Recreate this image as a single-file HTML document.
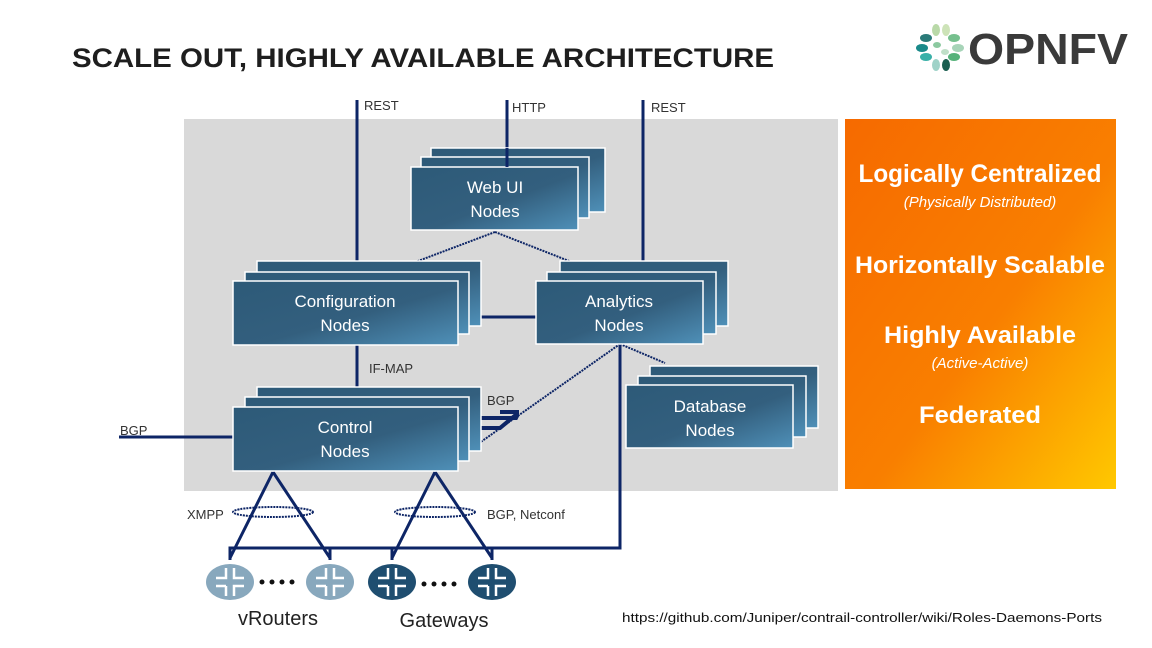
<!DOCTYPE html>
<html><head><meta charset="utf-8"><style>
html,body{margin:0;padding:0;background:#fff;}
svg{display:block;}
text{font-family:"Liberation Sans","DejaVu Sans",sans-serif;}
</style></head><body>
<svg width="1152" height="648" viewBox="0 0 1152 648" xmlns="http://www.w3.org/2000/svg">
<defs>
<linearGradient id="bx" x1="0" y1="0" x2="1" y2="1">
<stop offset="0" stop-color="#2d5a78"/><stop offset="0.55" stop-color="#335f7e"/><stop offset="1" stop-color="#4f90b8"/>
</linearGradient>
<linearGradient id="or" x1="0" y1="0" x2="1" y2="1">
<stop offset="0" stop-color="#f66a00"/><stop offset="0.55" stop-color="#f97f00"/><stop offset="1" stop-color="#ffc800"/>
</linearGradient>
</defs>
<rect width="1152" height="648" fill="#fff"/>
<text x="72" y="67" font-size="27" font-weight="bold" fill="#1e1e1e" textLength="702" lengthAdjust="spacingAndGlyphs">SCALE OUT, HIGHLY AVAILABLE ARCHITECTURE</text>
<g>
<g><ellipse cx="936" cy="30" rx="4" ry="6" fill="#b9d9a8"/><ellipse cx="946" cy="30" rx="4" ry="6" fill="#cde3b8"/><ellipse cx="926" cy="38" rx="6" ry="4" fill="#2a7a78"/><ellipse cx="954" cy="38" rx="6" ry="4" fill="#76c08e"/><ellipse cx="922" cy="48" rx="6" ry="4" fill="#1a8a8a"/><ellipse cx="958" cy="48" rx="6" ry="4" fill="#a7d4b8"/><ellipse cx="926" cy="57" rx="6" ry="4" fill="#3ab0a8"/><ellipse cx="954" cy="57" rx="6" ry="4" fill="#56b27a"/><ellipse cx="936" cy="65" rx="4" ry="6" fill="#9fd2c8"/><ellipse cx="946" cy="65" rx="4" ry="6" fill="#1b5e50"/><ellipse cx="937" cy="45" rx="4" ry="3" fill="#8cc9a0"/><ellipse cx="945" cy="52" rx="4" ry="3" fill="#c0dfc8"/></g>
<text x="968" y="64" font-size="44" font-weight="bold" fill="#3a3a3a" textLength="160" lengthAdjust="spacingAndGlyphs">OPNFV</text>
</g>
<rect x="184" y="119" width="654" height="372" fill="#d9d9d9"/>
<rect x="845" y="119" width="271" height="370" fill="url(#or)"/>
<g fill="#fff" text-anchor="middle">
<text x="980" y="182" font-size="25" font-weight="bold" textLength="243" lengthAdjust="spacingAndGlyphs">Logically Centralized</text>
<text x="980" y="207" font-size="15" font-style="italic">(Physically Distributed)</text>
<text x="980" y="273" font-size="24" font-weight="bold" textLength="250" lengthAdjust="spacingAndGlyphs">Horizontally Scalable</text>
<text x="980" y="343" font-size="24" font-weight="bold" textLength="192" lengthAdjust="spacingAndGlyphs">Highly Available</text>
<text x="980" y="368" font-size="15" font-style="italic">(Active-Active)</text>
<text x="980" y="423" font-size="24" font-weight="bold" textLength="122" lengthAdjust="spacingAndGlyphs">Federated</text>
</g>
<g stroke="#0d2566" stroke-width="3" fill="none">
<line x1="357" y1="100" x2="357" y2="262"/>
<line x1="507" y1="100" x2="507" y2="150"/>
<line x1="643" y1="100" x2="643" y2="262"/>
<line x1="357" y1="345" x2="357" y2="388"/>
<line x1="458" y1="317" x2="536" y2="317"/>
<line x1="119" y1="437" x2="233" y2="437"/>
<polyline points="620,344 620,548 230,548 230,560"/>
<line x1="392" y1="548" x2="392" y2="560"/>
<line x1="492" y1="548" x2="492" y2="560"/>
<line x1="330" y1="548" x2="330" y2="560"/>
<polyline points="273,472 230,558"/><polyline points="273,472 330,558"/>
<polyline points="435,472 392,558"/><polyline points="435,472 492,558"/>
</g>
<g stroke="#0d2566" stroke-width="4" fill="none">
<polyline points="470,418 516,418 518,414"/>
<polyline points="458,428 500,428 518,413"/>
<line x1="500" y1="412" x2="519" y2="412"/>
</g>
<g stroke="#0d2566" stroke-width="2" stroke-dasharray="2,1" fill="none">
<line x1="495" y1="232" x2="365" y2="281"/>
<line x1="495" y1="232" x2="620" y2="281"/>
<line x1="620" y1="344" x2="458" y2="458"/>
<line x1="620" y1="344" x2="665" y2="363"/>
<ellipse cx="273" cy="512" rx="40" ry="5"/>
<ellipse cx="435" cy="512" rx="40" ry="5"/>
</g>
<g fill="url(#bx)" stroke="#fff" stroke-width="1.5">
<rect x="431" y="148" width="174" height="64"/><rect x="421" y="157" width="168" height="61"/><rect x="411" y="167" width="167" height="63"/>
<rect x="257" y="261" width="224" height="65"/><rect x="245" y="272" width="224" height="62"/><rect x="233" y="281" width="225" height="64"/>
<rect x="560" y="261" width="168" height="65"/><rect x="547" y="272" width="169" height="62"/><rect x="536" y="281" width="167" height="63"/>
<rect x="257" y="387" width="224" height="64"/><rect x="245" y="397" width="224" height="64"/><rect x="233" y="407" width="225" height="64"/>
<rect x="650" y="366" width="168" height="62"/><rect x="638" y="376" width="168" height="61"/><rect x="626" y="385" width="167" height="63"/>
</g>
<line x1="507" y1="148" x2="507" y2="167" stroke="#0d2566" stroke-width="3"/>
<g fill="#fff" font-size="17" text-anchor="middle">
<text x="495" y="193">Web UI</text><text x="495" y="217">Nodes</text>
<text x="345" y="307">Configuration</text><text x="345" y="331">Nodes</text>
<text x="619" y="307">Analytics</text><text x="619" y="331">Nodes</text>
<text x="345" y="433">Control</text><text x="345" y="457">Nodes</text>
<text x="710" y="412">Database</text><text x="710" y="436">Nodes</text>
</g>
<g fill="#333" font-size="13">
<text x="364" y="110">REST</text><text x="512" y="112">HTTP</text><text x="651" y="112">REST</text>
<text x="369" y="373">IF-MAP</text><text x="487" y="405">BGP</text><text x="120" y="435">BGP</text>
<text x="187" y="519">XMPP</text><text x="487" y="519">BGP, Netconf</text>
</g>
<g>
<ellipse cx="230" cy="582" rx="24" ry="18" fill="#88a8bd"/><ellipse cx="330" cy="582" rx="24" ry="18" fill="#88a8bd"/>
<ellipse cx="392" cy="582" rx="24" ry="18" fill="#1f4e70"/><ellipse cx="492" cy="582" rx="24" ry="18" fill="#1f4e70"/>
<g stroke="#fff" stroke-width="2.5" fill="none">
<path d="M216 578h10v-10M226 586h-10M234 568v10h10M234 596v-10h10M226 596v-10"/>
<path d="M316 578h10v-10M326 586h-10M334 568v10h10M334 596v-10h10M326 596v-10"/>
<path d="M378 578h10v-10M388 586h-10M396 568v10h10M396 596v-10h10M388 596v-10"/>
<path d="M478 578h10v-10M488 586h-10M496 568v10h10M496 596v-10h10M488 596v-10"/>
</g>
<g fill="#111"><circle cx="262" cy="582" r="2.5"/><circle cx="272" cy="582" r="2.5"/><circle cx="282" cy="582" r="2.5"/><circle cx="292" cy="582" r="2.5"/>
<circle cx="424" cy="584" r="2.5"/><circle cx="434" cy="584" r="2.5"/><circle cx="444" cy="584" r="2.5"/><circle cx="454" cy="584" r="2.5"/></g>
</g>
<g fill="#222" font-size="20" text-anchor="middle">
<text x="278" y="625">vRouters</text><text x="444" y="627">Gateways</text>
</g>
<text x="622" y="622" font-size="13" fill="#111" textLength="480" lengthAdjust="spacingAndGlyphs">https://github.com/Juniper/contrail-controller/wiki/Roles-Daemons-Ports</text>
</svg>
</body></html>
